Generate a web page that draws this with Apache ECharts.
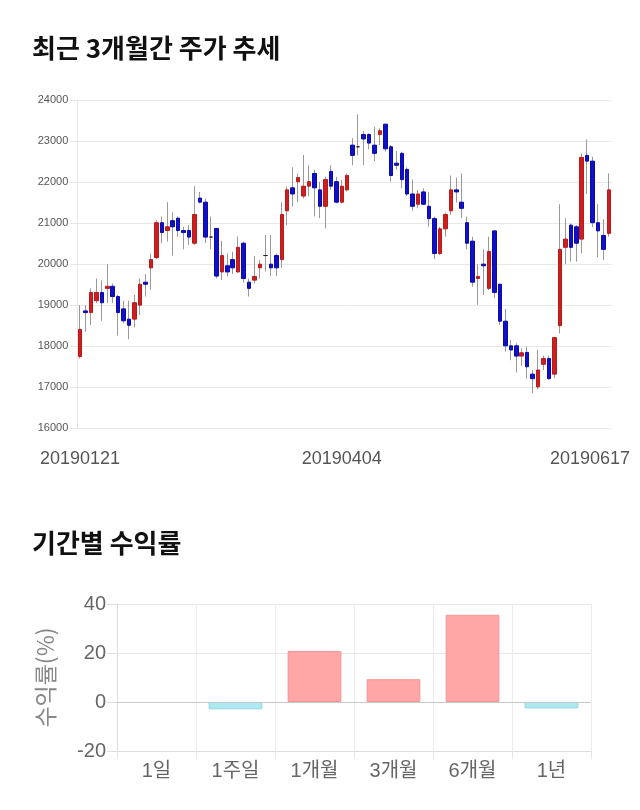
<!DOCTYPE html>
<html><head><meta charset="utf-8">
<script src="https://cdn.jsdelivr.net/npm/echarts@6/dist/echarts.min.js"></script>
<style>html,body{margin:0;padding:0;background:#fff}#c{width:640px;height:810px}</style>
</head><body><div id="c"></div>
<script>
const dates = [
'20190121','20190122','20190123','20190124','20190125','20190128','20190129','20190130','20190131',
'20190207','20190208','20190211','20190212','20190213','20190214','20190215','20190218','20190219','20190220','20190221','20190222','20190225','20190226','20190227','20190228',
'20190304','20190305','20190306','20190307','20190308','20190311','20190312','20190313','20190314','20190315','20190318','20190319','20190320','20190321','20190322','20190325','20190326','20190327','20190328','20190329',
'20190401','20190402','20190403','20190404','20190405','20190408','20190409','20190410','20190411','20190412','20190415','20190416','20190417','20190418','20190419','20190422','20190423','20190424','20190425','20190426','20190429','20190430',
'20190502','20190503','20190507','20190508','20190509','20190510','20190513','20190514','20190515','20190516','20190517','20190520','20190521','20190522','20190523','20190524','20190527','20190528','20190529','20190530','20190531',
'20190603','20190604','20190605','20190607','20190610','20190611','20190612','20190613','20190614','20190617'];
const opens = [17750,18860,18820,19110,19310,19410,19460,19210,18910,18660,18660,19000,19560,19910,20160,21010,20820,21060,21120,20820,20820,20510,21610,21510,20660,20870,19810,19960,20110,19810,20510,19560,19610,19910,20210,20000,20210,20110,21300,21860,22010,21660,21900,22210,21810,21410,22260,22010,21510,21810,22900,22860,23160,23160,22900,23160,23410,22860,22460,22700,22310,21710,21460,21760,21410,21110,20260,20860,21300,21810,21510,21010,20560,19650,20000,19410,20810,19510,18610,18010,18010,17760,17850,17320,17010,17560,17700,17320,18500,20410,20950,20910,20610,22650,22510,21010,20700,20750];
const closes = [18410,18820,19310,19310,19060,19460,19210,18820,18620,18510,19060,19510,19510,20110,21010,20770,20910,20910,20820,20770,20660,21210,21510,20660,20660,19710,20210,19810,19910,20410,19650,19410,19700,20000,20210,19910,19910,21210,21810,21710,22110,21900,22010,21860,21410,22060,21900,21510,21900,22160,22650,22860,23050,22950,22700,23250,22810,22160,22410,22060,21710,21410,21710,21460,21110,20260,20860,21210,21810,21760,21360,20510,19560,19700,19960,20310,19310,18610,18010,17910,17760,17840,17500,17210,17420,17700,17210,18210,20360,20610,20410,20510,22600,22510,21010,20810,20360,21810];
const lows = [17700,18350,18520,19050,18620,19050,19050,18260,18560,18170,18460,18760,19210,19370,20120,20510,20550,20210,20670,20360,20470,20470,21480,20510,20360,19650,19610,19700,19760,19790,19550,19210,19530,19650,19820,19710,19710,19910,20950,21400,21510,21600,21650,21160,21120,20870,21810,21480,21480,21770,22410,22650,22410,22800,22510,22900,22740,22010,22300,21850,21660,21300,21360,21440,20910,20120,20220,20670,21200,21500,21120,20360,19450,19010,19250,19370,19170,18520,17870,17660,17360,17520,17210,16850,16950,17420,17180,17220,18310,20000,20060,20060,20260,21710,20900,20170,20100,20670];
const highs = [19000,19000,19410,19650,19600,20000,19530,19250,19110,19110,19250,19650,19760,20260,21080,21160,21510,21260,21160,20910,20950,21900,21760,21600,21160,20870,20570,20260,20300,20670,20550,19650,20200,20100,20710,20710,20260,21510,21890,22360,22210,22660,22410,22300,22010,22130,22410,22130,22050,22210,23070,23650,23250,23190,23350,23310,23430,22900,22760,22740,22360,22060,21810,21850,21760,21160,20910,21260,22160,22110,22210,21160,20670,20000,20360,20670,20830,19530,18910,18150,18070,17950,17990,17420,17910,17770,17770,18230,21460,21120,20990,20950,22700,23040,22620,21460,21090,22210];
const dateTicks = ['20190121','20190404','20190617'];

const periods = ['1일','1주일','1개월','3개월','6개월','1년'];
const returns = [0, -3.0, 20.8, 9.3, 35.6, -2.6];

const wickData = opens.map((o, i) => [o, closes[i], lows[i], highs[i]]);
const bodyData = opens.map((o, i) => [o, closes[i], Math.min(o, closes[i]), Math.max(o, closes[i])]);
const barData = returns.map(v => ({
  value: v,
  itemStyle: v > 0 ? {color: '#ffa6a6', borderColor: '#f19797', borderWidth: 1}
           : v < 0 ? {color: '#aee8f1', borderColor: '#92d6e2', borderWidth: 1}
           : {color: 'rgba(0,0,0,0)', borderWidth: 0}
}));

const NUM = 'Liberation Sans, Noto Sans CJK KR, sans-serif';
const KR = 'Noto Sans CJK KR, sans-serif';

const chart = echarts.init(document.getElementById('c'));
chart.setOption({
  animation: false,
  backgroundColor: '#fff',
  title: [
    {text: '최근 3개월간 주가 추세', left: 32, top: 35, padding: 0,
     textStyle: {fontSize: 26, fontWeight: 'bold', color: '#111', fontFamily: KR}},
    {text: '기간별 수익률', left: 32, top: 530, padding: 0,
     textStyle: {fontSize: 26, fontWeight: 'bold', color: '#111', fontFamily: KR}}
  ],
  grid: [
    {left: 77.3, width: 534.4, top: 100, height: 328.3},
    {left: 117, width: 474, top: 604, height: 147}
  ],
  xAxis: [
    {type: 'category', gridIndex: 0, data: dates, boundaryGap: true,
     axisLine: {show: false}, axisTick: {show: false}, splitLine: {show: false},
     axisLabel: {
       interval: (i, v) => dateTicks.includes(v),
       margin: 22, fontSize: 18, color: '#555', fontFamily: NUM,
       formatter: v => v === dateTicks[2] ? '{r|' + v + '}' : v,
       rich: {r: {fontSize: 18, color: '#555', fontFamily: NUM, padding: [0, 38, 0, 0]}}
     }},
    {type: 'category', gridIndex: 1, data: periods, boundaryGap: true,
     axisLine: {show: true, onZero: false, lineStyle: {color: '#ddd'}},
     axisTick: {show: true, length: 8, lineStyle: {color: '#e6e6e6'}},
     splitLine: {show: true, lineStyle: {color: '#ececec'}},
     axisLabel: {fontSize: 20, color: '#666', margin: 10, fontFamily: NUM}}
  ],
  yAxis: [
    {type: 'value', gridIndex: 0, min: 16000, max: 24000, interval: 1000,
     axisLine: {show: true, lineStyle: {color: '#e6e6e6'}},
     axisTick: {show: true, length: 8, lineStyle: {color: '#e6e6e6'}},
     splitLine: {show: true, lineStyle: {color: '#e8e8e8'}},
     axisLabel: {fontSize: 11, color: '#555', margin: 9, fontFamily: NUM, formatter: v => String(v)}},
    {type: 'value', gridIndex: 1, min: -20, max: 40, interval: 20,
     name: '수익률(%)', nameLocation: 'middle', nameGap: 60, nameRotate: 90,
     nameTextStyle: {fontSize: 23, color: '#888', fontFamily: KR},
     axisLine: {show: true, lineStyle: {color: '#ddd'}},
     axisTick: {show: true, length: 10, lineStyle: {color: '#ddd'}},
     splitLine: {show: true, lineStyle: {color: '#e8e8e8'}},
     axisLabel: {fontSize: 20, color: '#666', margin: 11, fontFamily: NUM}}
  ],
  series: [
    {type: 'candlestick', xAxisIndex: 0, yAxisIndex: 0, data: wickData, barWidth: 1,
     itemStyle: {color: '#999', color0: '#999', borderColor: '#999', borderColor0: '#999', borderColorDoji: '#999', borderWidth: 1}},
    {type: 'candlestick', xAxisIndex: 0, yAxisIndex: 0, data: bodyData, barWidth: 4,
     itemStyle: {color: '#cc2020', color0: '#1010c4', borderColor: '#b81a1a', borderColor0: '#0a0aae', borderColorDoji: '#222', borderWidth: 1}},
    {type: 'bar', xAxisIndex: 1, yAxisIndex: 1, data: barData, barWidth: '68%',
     markLine: {silent: true, symbol: 'none', label: {show: false},
       lineStyle: {color: '#c8c8c8', type: 'solid', width: 1}, data: [{yAxis: 0}]}}
  ]
});
</script></body></html>
